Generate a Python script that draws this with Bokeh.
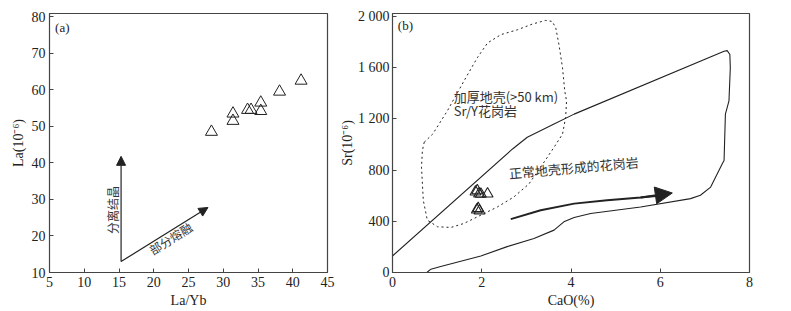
from bokeh.plotting import figure
from bokeh.layouts import row
from bokeh.models import Arrow, NormalHead, Range1d, FixedTicker, Label
from bokeh.embed import file_html
from bokeh.resources import INLINE

# ---------------- data: panel (a) ----------------
la_yb = [28.3, 31.4, 31.4, 33.5, 34.0, 35.4, 35.4, 38.1, 41.2]
la = [48.5, 53.5, 51.5, 54.5, 54.5, 56.5, 54.2, 59.5, 62.5]
a_xticks = [5, 10, 15, 20, 25, 30, 35, 40, 45]
a_yticks = [10, 20, 30, 40, 50, 60, 70, 80]

# ---------------- data: panel (b) ----------------
cao = [1.86, 1.90, 1.94, 1.98, 2.13, 1.89, 1.92, 1.95]
sr = [630, 640, 615, 612, 615, 490, 500, 482]

dash_x = [0.71, 0.90, 1.23, 1.60, 1.90, 2.13, 2.43, 2.80, 3.13, 3.43, 3.58, 3.66, 3.73,
          3.81, 3.86, 3.90, 3.88, 3.81, 3.62, 3.32, 3.06, 2.72, 2.35, 1.98, 1.60, 1.31,
          1.01, 0.78, 0.69, 0.65, 0.67, 0.71]
dash_y = [1017, 1081, 1263, 1495, 1677, 1793, 1858, 1896, 1940, 1969, 1961, 1909, 1780,
          1599, 1418, 1340, 1211, 1081, 978, 823, 693, 590, 512, 448, 383, 352,
          357, 409, 564, 823, 953, 1017]

solid_x = [0, 2.69, 3.02, 3.62, 4.07, 7.43, 7.50, 7.56, 7.57, 7.54, 7.46, 7.43, 7.39,
           7.13, 6.90, 6.68, 5.56, 4.44, 4.07, 3.84, 3.62, 3.17, 2.57, 1.98, 1.08, 0.86, 0.77]
solid_y = [129, 965, 1056, 1159, 1237, 1728, 1733, 1703, 1599, 1340, 1237, 875, 849,
           667, 603, 577, 512, 461, 430, 396, 331, 266, 202, 129, 47, 26, 0]

trend_x = [2.65, 3.32, 4.07, 4.81, 5.56, 5.90]
trend_y = [417, 486, 538, 564, 585, 598]
trend_head = (6.27, 621)

b_xticks = [0, 2, 4, 6, 8]
b_yticks = [0, 400, 800, 1200, 1600, 2000]
b_ylabels = ["0", "400", "800", "1 200", "1 600", "2 000"]

SERIF = "Liberation Serif"
CJK = "Noto Sans CJK SC"
INK = "#222222"


def style(p):
    p.toolbar_location = None
    p.grid.visible = False
    p.outline_line_color = "#444444"
    p.outline_line_width = 1.2
    p.background_fill_color = "white"
    p.border_fill_color = "white"
    for ax in (p.xaxis[0], p.yaxis[0]):
        ax.major_tick_in = 4
        ax.major_tick_out = 0
        ax.minor_tick_in = 0
        ax.minor_tick_out = 0
        ax.axis_line_color = "#444444"
        ax.major_tick_line_color = "#444444"
        ax.major_label_text_font = SERIF
        ax.major_label_text_font_size = "14px"
        ax.major_label_text_color = INK
        ax.axis_label_text_font = SERIF
        ax.axis_label_text_font_size = "14px"
        ax.axis_label_text_font_style = "normal"
        ax.axis_label_text_color = INK
        ax.major_label_standoff = 4
        ax.axis_label_standoff = 3


# ---------------- panel (a) ----------------
pa = figure(width=335, height=311, output_backend="svg", toolbar_location=None,
            x_range=Range1d(5, 45), y_range=Range1d(10, 80.9),
            min_border_left=49, min_border_right=8, min_border_top=13, min_border_bottom=39)
style(pa)
pa.xaxis.ticker = FixedTicker(ticks=a_xticks)
pa.yaxis.ticker = FixedTicker(ticks=a_yticks)
pa.xaxis.axis_label = "La/Yb"
pa.yaxis.axis_label = "La(10⁻⁶)"

pa.scatter(la_yb, la, marker="triangle", size=12, fill_color=None,
           line_color=INK, line_width=1)

pa.add_layout(Arrow(end=NormalHead(size=9, fill_color=INK, line_color=INK),
                    x_start=15.3, y_start=13, x_end=15.3, y_end=41.8,
                    line_color=INK, line_width=1.2))
pa.add_layout(Arrow(end=NormalHead(size=9, fill_color=INK, line_color=INK),
                    x_start=15.3, y_start=13, x_end=27.8, y_end=27.8,
                    line_color=INK, line_width=1.2))

pa.add_layout(Label(x=5.8, y=77.2, text="(a)", text_font=SERIF, text_font_size="13px",
                    text_baseline="middle", text_color=INK))
pa.add_layout(Label(x=14.05, y=27.1, text="分离结晶", text_font=CJK, text_font_size="12px",
                    text_baseline="middle", text_align="center", angle=90,
                    angle_units="deg", text_color="#333333"))
pa.add_layout(Label(x=22.4, y=19.4, text="部分熔融", text_font=CJK, text_font_size="12px",
                    text_baseline="middle", text_align="center", angle=32,
                    angle_units="deg", text_color="#333333"))

# ---------------- panel (b) ----------------
pb = figure(width=456, height=311, output_backend="svg", toolbar_location=None,
            x_range=Range1d(0, 8), y_range=Range1d(0, 2023),
            min_border_left=57, min_border_right=42, min_border_top=12, min_border_bottom=39)
style(pb)
pb.yaxis.major_label_standoff = 3
pb.yaxis.axis_label_standoff = 0
pb.xaxis.ticker = FixedTicker(ticks=b_xticks)
pb.yaxis.ticker = FixedTicker(ticks=b_yticks)
pb.yaxis.major_label_overrides = {t: l for t, l in zip(b_yticks, b_ylabels)}
pb.xaxis.axis_label = "CaO(%)"
pb.yaxis.axis_label = "Sr(10⁻⁶)"

pb.line(dash_x, dash_y, line_color=INK, line_width=1, line_dash="2 3")
pb.line(solid_x, solid_y, line_color=INK, line_width=1.1)
pb.line(trend_x, trend_y, line_color=INK, line_width=2)
pb.add_layout(Arrow(end=NormalHead(size=17, fill_color=INK, line_color=INK),
                    x_start=trend_x[-2], y_start=trend_y[-2],
                    x_end=trend_head[0], y_end=trend_head[1],
                    line_color=INK, line_width=2))

pb.scatter(cao, sr, marker="triangle", size=11, fill_color=None,
           line_color=INK, line_width=1.1)

pb.add_layout(Label(x=0.12, y=1930, text="(b)", text_font=SERIF, text_font_size="13px",
                    text_baseline="middle", text_color=INK))
pb.add_layout(Label(x=1.37, y=1378, text="加厚地壳(>50 km)", text_font=CJK,
                    text_font_size="13px", text_baseline="middle", text_color="#333333"))
pb.add_layout(Label(x=1.37, y=1262, text="Sr/Y花岗岩", text_font=CJK,
                    text_font_size="13px", text_baseline="middle", text_color="#333333"))
pb.add_layout(Label(x=4.06, y=820, text="正常地壳形成的花岗岩", text_font=CJK,
                    text_font_size="13px", text_baseline="middle", text_align="center",
                    angle=5, angle_units="deg", text_color="#333333"))

layout = row(pa, pb)
open("out.html", "w").write(file_html(layout, INLINE))
